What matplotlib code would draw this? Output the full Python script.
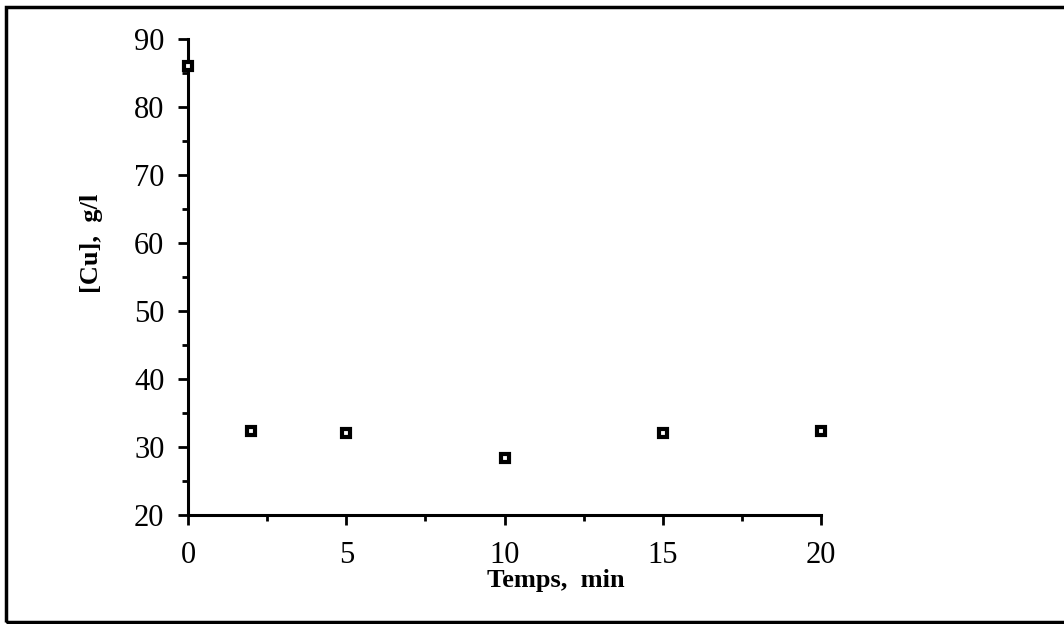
import matplotlib.pyplot as plt
from matplotlib.patches import Rectangle
from matplotlib.ticker import MultipleLocator

# data
temps = [0, 2, 5, 10, 15, 20]
cu = [86.0, 32.3, 32.0, 28.4, 32.0, 32.3]

x_ticks = [0, 5, 10, 15, 20]
y_ticks = [20, 30, 40, 50, 60, 70, 80, 90]

plt.rcParams['font.family'] = ['Liberation Serif', 'DejaVu Serif']

fig = plt.figure(figsize=(10.64, 6.24), dpi=100)
ax = fig.add_axes([0.1767, 0.1747, 0.595, 0.7628])

ax.plot(temps, cu, linestyle='none', marker='s', markersize=6,
        markerfacecolor='white', markeredgecolor='black', markeredgewidth=3,
        clip_on=False, zorder=5)

ax.set_xlim(0, 20)
ax.set_ylim(20, 90)
ax.set_xticks(x_ticks)
ax.set_yticks(y_ticks)
ax.xaxis.set_minor_locator(MultipleLocator(2.5))
ax.yaxis.set_minor_locator(MultipleLocator(5))

for s in ['top', 'right']:
    ax.spines[s].set_visible(False)
for s in ['left', 'bottom']:
    ax.spines[s].set_linewidth(2.2)

ax.tick_params(which='major', direction='out', length=7, width=2, labelsize=22)
ax.tick_params(axis='x', which='major', pad=12)
ax.tick_params(axis='y', which='major', pad=10)
ax.tick_params(which='minor', direction='out', length=4, width=2)

ax.set_xlabel('Temps,  min', fontsize=19, fontweight='bold', va='center')
ax.xaxis.set_label_coords(0.581, -0.137)
ax.set_ylabel('[Cu],  g/l', fontsize=19, fontweight='bold', va='center')
ax.yaxis.set_label_coords(-0.152, 0.571)

# border around the whole picture
fig.patches.append(Rectangle((0.006, 0.003), 1.1, 0.986, transform=fig.transFigure,
                             fill=False, edgecolor='black', linewidth=2.5))

fig.savefig('out.png', dpi=100)
